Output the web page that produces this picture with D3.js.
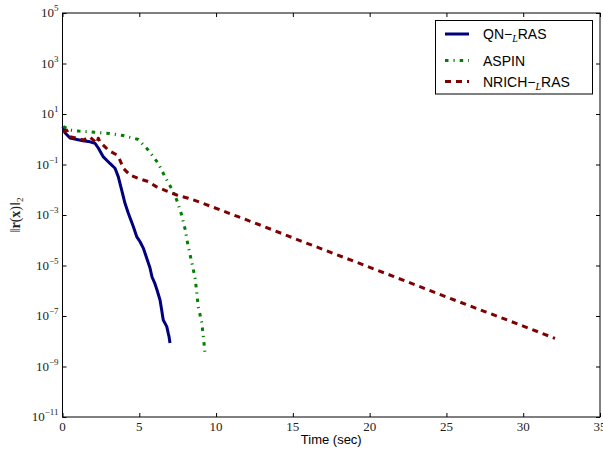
<!DOCTYPE html>
<html>
<head>
<meta charset="utf-8">
<script src="https://cdn.jsdelivr.net/npm/d3@7"></script>
<style>
  body { margin: 0; background: #fff; }
  svg { display: block; }
</style>
</head>
<body>
<div id="container"></div>
<script>
// datos (tiempo en segundos, residuo ||r(x)||_2)
const qnTime = [0.03, 0.16, 0.49, 0.94, 1.33, 1.79, 2.12, 2.33, 2.66, 3.09, 3.42, 3.63, 3.85, 4.07, 4.28, 4.61,
                4.83, 5.05, 5.26, 5.48, 5.70, 5.83, 6.02, 6.15, 6.35, 6.46, 6.56, 6.79, 6.89, 6.93, 7.00];
const qnRes = [3.2, 1.8, 1.12, 0.98, 0.87, 0.79, 0.69, 0.45, 0.20, 0.11, 7.1e-2, 3.3e-2, 9.8e-3, 2.9e-3, 1.2e-3, 3.5e-4,
               1.4e-4, 8.7e-5, 4.9e-5, 2.0e-5, 7.9e-6, 3.5e-6, 1.9e-6, 1.1e-6, 4.3e-7, 1.7e-7, 6.9e-8, 3.8e-8, 2.0e-8, 1.6e-8, 8.5e-9];

const aspinTime = [0.05, 0.49, 1.07, 2.07, 3.05, 3.96, 4.94, 5.59, 6.24, 6.67, 7.11, 7.44, 7.76, 7.98, 8.19, 8.41,
                   8.63, 8.74, 8.84, 9.06, 9.17, 9.28];
const aspinRes = [3.2, 2.3, 2.1, 1.9, 1.7, 1.4, 0.98, 0.37, 0.11, 3.3e-2, 1.1e-2, 3.9e-3, 1.0e-3, 2.8e-4, 5.5e-5, 1.4e-5,
                  3.3e-6, 8.9e-7, 2.3e-7, 5.9e-8, 1.5e-8, 3.5e-9];

const nrichTime = [0.05, 0.27, 0.49, 0.92, 1.35, 1.79, 2.01, 2.23, 2.33, 2.44, 2.77, 2.98, 3.53, 3.74, 3.96, 4.40,
                   4.94, 5.59, 6.13, 6.79, 7.44, 8.19, 8.84, 10.26, 12.5, 15.5, 18.5, 21.5, 24.5, 27.5, 30.0, 32.07];
const nrichRes = [2.0, 2.3, 1.26, 1.1, 0.93, 1.23, 0.93, 0.69, 1.1, 0.78, 0.50, 0.37, 0.24, 0.15, 7.1e-2, 3.8e-2,
                  2.8e-2, 2.1e-2, 1.3e-2, 8.9e-3, 6.2e-3, 4.6e-3, 3.4e-3, 1.6e-3, 4.9e-4, 9.5e-5, 1.9e-5, 3.8e-6, 7.4e-7, 1.5e-7, 4.0e-8, 1.3e-8];

const xTicks = [0, 5, 10, 15, 20, 25, 30, 35];
const yExponents = [-11, -9, -7, -5, -3, -1, 1, 3, 5];

const WIDTH = 603, HEIGHT = 449;
const margin = { left: 62.5, right: 3, top: 13, bottom: 32 };
const width = WIDTH - margin.left - margin.right,
      height = HEIGHT - margin.top - margin.bottom;

const svg = d3.select('#container').append('svg')
    .attr('width', WIDTH).attr('height', HEIGHT);

const container = svg.append('g')
    .attr('transform', `translate(${margin.left} ${margin.top})`);

const xScale = d3.scaleLinear().domain([0, 35]).range([0, width]);
const yScale = d3.scaleLog().domain([1e-11, 1e5]).range([height, 0]);

const serif = "'Liberation Serif', 'DejaVu Serif', serif";
const sans = "'Liberation Sans', Arial, sans-serif";

// ejes con ticks hacia adentro en los cuatro lados
const yVals = yExponents.map(e => Math.pow(10, e));
const axes = [
    [d3.axisBottom(xScale).tickValues(xTicks), `translate(0,${height})`],
    [d3.axisTop(xScale).tickValues(xTicks), 'translate(0,0)'],
    [d3.axisLeft(yScale).tickValues(yVals), 'translate(0,0)'],
    [d3.axisRight(yScale).tickValues(yVals), `translate(${width},0)`]
];
axes.forEach(([ax, tr]) => {
    const g = container.append('g').attr('transform', tr)
        .call(ax.tickSizeInner(-4).tickSizeOuter(0).tickFormat(() => ''));
    g.select('.domain').remove();
    g.selectAll('line').attr('stroke', '#000').attr('stroke-width', 1);
});

container.append('rect')
    .attr('width', width).attr('height', height)
    .attr('fill', 'none').attr('stroke', '#000').attr('stroke-width', 1);

// etiquetas de ticks
container.selectAll('.xlab').data(xTicks).join('text')
    .attr('x', d => xScale(d)).attr('y', height + 14)
    .attr('text-anchor', 'middle')
    .style('font-family', serif).style('font-size', '13px').attr('fill', '#222')
    .text(d => d);

const ylab = container.selectAll('.ylab').data(yExponents).join('text')
    .attr('x', -4).attr('y', d => yScale(Math.pow(10, d)) + 4)
    .attr('text-anchor', 'end')
    .style('font-family', serif).style('font-size', '13px').attr('fill', '#222');
ylab.append('tspan').text('10');
ylab.append('tspan').attr('dy', -6).style('font-size', '9px')
    .text(d => (d < 0 ? '\u2212' : '') + Math.abs(d));

// nombres de ejes
svg.append('text')
    .attr('x', margin.left + width / 2).attr('y', 444)
    .attr('text-anchor', 'middle')
    .style('font-family', sans).style('font-size', '13px')
    .text('Time (sec)');

const yTitle = svg.append('text')
    .attr('transform', `translate(20,${margin.top + height / 2}) rotate(-90)`)
    .attr('text-anchor', 'middle')
    .style('font-family', serif).style('font-size', '14px').attr('fill', '#222');
yTitle.append('tspan').text('\u2016');
yTitle.append('tspan').style('font-weight', 'bold').text('r');
yTitle.append('tspan').text('(');
yTitle.append('tspan').style('font-weight', 'bold').text('x');
yTitle.append('tspan').text(')\u2016');
yTitle.append('tspan').attr('dy', 3).style('font-size', '9px').text('2');

// series
const series = [
    { name: 'QN', t: qnTime, r: qnRes, color: '#00007f', dash: null },
    { name: 'ASPIN', t: aspinTime, r: aspinRes, color: '#007f00', dash: '3.5,5,1.2,5' },
    { name: 'NRICH', t: nrichTime, r: nrichRes, color: '#7f0000', dash: '6,5' }
];

const line = d3.line().x(d => xScale(d[0])).y(d => yScale(d[1]));

container.selectAll('.series').data(series).join('path')
    .attr('d', s => line(d3.zip(s.t, s.r)))
    .attr('fill', 'none')
    .attr('stroke', s => s.color)
    .attr('stroke-width', 3)
    .attr('stroke-dasharray', s => s.dash)
    .attr('stroke-linejoin', 'round');

// leyenda
const legend = svg.append('g');
legend.append('rect')
    .attr('x', 435.5).attr('y', 20.5).attr('width', 157).attr('height', 73.5)
    .attr('fill', '#fff').attr('stroke', '#000').attr('stroke-width', 1);

const legendY = [34, 60.5, 81.5];
series.forEach((s, i) => {
    legend.append('line')
        .attr('x1', 445).attr('x2', 469)
        .attr('y1', legendY[i]).attr('y2', legendY[i])
        .attr('stroke', s.color).attr('stroke-width', 3)
        .attr('stroke-dasharray', s.dash);
    const t = legend.append('text')
        .attr('x', 483).attr('y', legendY[i] + 5)
        .style('font-family', sans).style('font-size', '14px');
    if (s.name === 'ASPIN') {
        t.text('ASPIN');
    } else {
        t.append('tspan').text(s.name + '\u2212');
        t.append('tspan').attr('dy', 3).style('font-family', serif)
            .style('font-style', 'italic').style('font-size', '10px').text('L');
        t.append('tspan').attr('dy', -3).text('RAS');
    }
});
</script>
</body>
</html>
